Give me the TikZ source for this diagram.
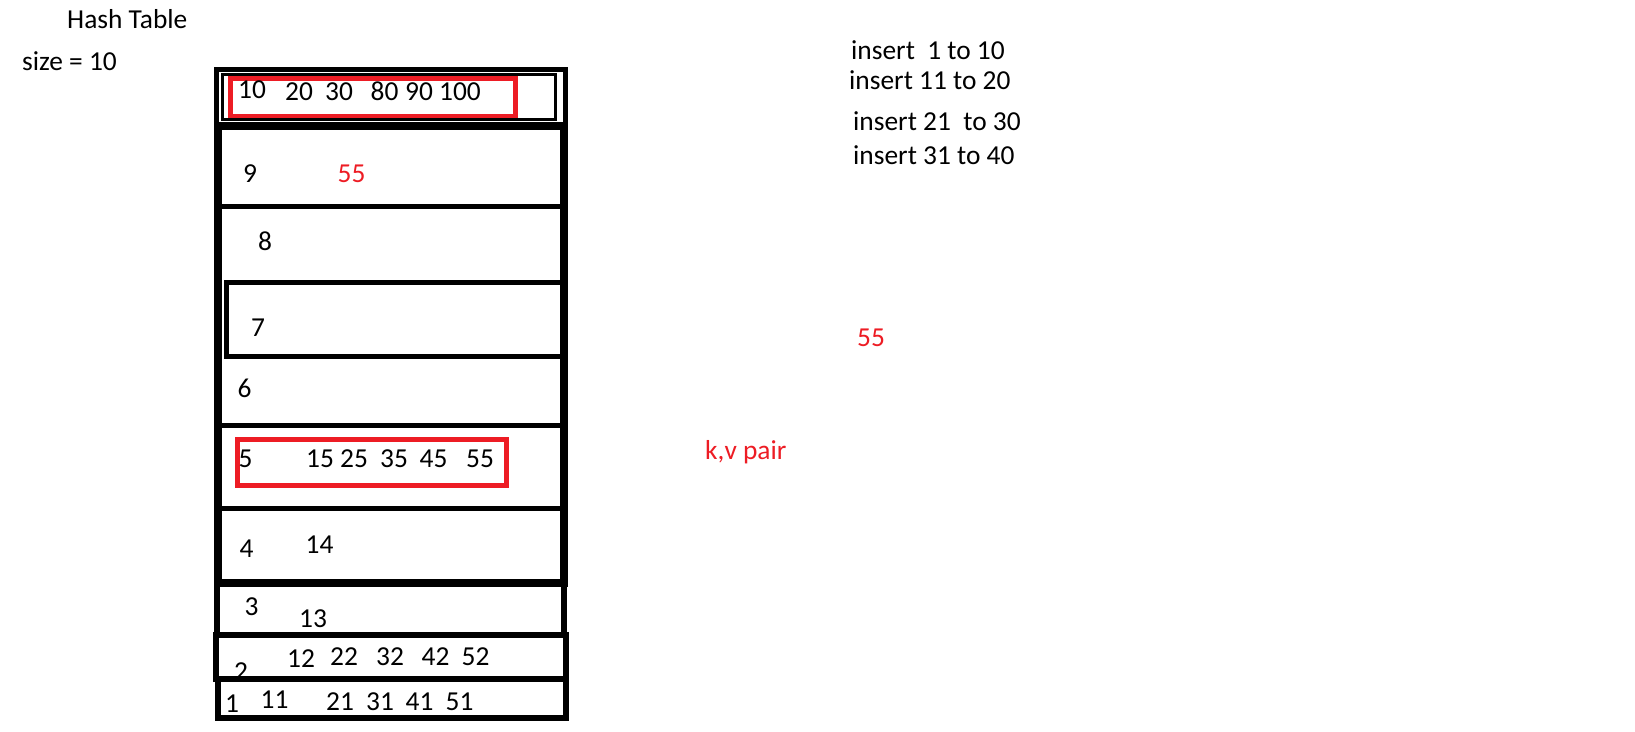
\documentclass[tikz,border=0pt]{standalone}
\usepackage{fontspec}
\setmainfont{Carlito}
\definecolor{pred}{HTML}{ED1C24}
\begin{document}
\begin{tikzpicture}[x=1pt,y=-1pt,
  lbl/.style={inner sep=0pt,anchor=base,font=\fontsize{27.4}{33}\selectfont},
  lblw/.style={lbl,anchor=base west},
  redlbl/.style={lbl,text=pred},
  redbox/.style={draw=pred,line width=5pt},
  edge/.style={draw=black}]
\useasboundingbox (0,0) rectangle (1635,731);

% red boxes
\draw[redbox] (230.5,78) rectangle (515.5,116.5);
\draw[redbox] (237.5,439.5) rectangle (506,485);

% titles
\node[lblw] (title) at (67,28) {Hash Table};
\node[lblw] (size) at (22,70) {size = 10};
\node[lblw] (ins1) at (851,59) {insert\ \ 1 to 10};
\node[lblw] (ins2) at (849,89) {insert 11 to 20};
\node[lblw] (ins3) at (853,130) {insert 21\ \ to 30};
\node[lblw] (ins4) at (853,164) {insert 31 to 40};
\node[redlbl] (r55) at (871,346) {55};
\node[redlbl,anchor=base west] (kv) at (705,459) {k,v pair};

% row 10
\node[lbl] (a10) at (252,98) {10};
\node[lbl] (a20) at (299,100) {20};
\node[lbl] (a30) at (339,100) {30};
\node[lbl] (a80) at (384.5,100) {80};
\node[lbl] (a90) at (419,100) {90};
\node[lbl] (a100) at (460,100) {100};
% row 9
\node[lbl] (i9) at (250,182) {9};
\node[redlbl] (b55) at (351.5,182) {55};
% row 8, 7, 6
\node[lbl] (i8) at (265,250) {8};
\node[lbl] (i7) at (258,336) {7};
\node[lbl] (i6) at (244.5,397) {6};
% row 5
\node[lbl] (i5) at (245.5,467) {5};
\node[lbl] (c15) at (320,467) {15};
\node[lbl] (c25) at (354,467) {25};
\node[lbl] (c35) at (394,467) {35};
\node[lbl] (c45) at (433.5,467) {45};
\node[lbl] (c55) at (480,467) {55};
% row 4
\node[lbl] (i4) at (246.5,557) {4};
\node[lbl] (d14) at (319.5,553) {14};
% row 3
\node[lbl] (i3) at (251.5,615) {3};
\node[lbl] (e13) at (313,627) {13};
% row 2
\node[lbl] (i2) at (241,680) {2};
\node[lbl] (f12) at (301,667) {12};
\node[lbl] (f22) at (344,665) {22};
\node[lbl] (f32) at (390,665) {32};
\node[lbl] (f42) at (435.5,665) {42};
\node[lbl] (f52) at (475.5,665) {52};
% row 1
\node[lbl] (i1) at (232,712) {1};
\node[lbl] (g11) at (274.5,708) {11};
\node[lbl] (g21) at (340,710) {21};
\node[lbl] (g31) at (380,710) {31};
\node[lbl] (g41) at (419.5,710) {41};
\node[lbl] (g51) at (459.5,710) {51};

% black table lines
\draw[edge,line width=5pt] (216.5,69.5) rectangle (565.5,124);
\draw[edge,line width=3pt] (222.5,74) rectangle (555.5,119);
\draw[edge,line width=8pt] (218,126) rectangle (564,583);
\draw[edge,line width=5pt] (218,206.5) -- (564,206.5);
\draw[edge,line width=5pt] (226.5,282.5) rectangle (564,356);
\draw[edge,line width=5pt] (218,425.5) -- (564,425.5);
\draw[edge,line width=5pt] (218,508.5) -- (564,508.5);
\draw[edge,line width=6pt] (217,583) rectangle (564,634.5);
\draw[edge,line width=6pt] (216,634.5) rectangle (566,678.5);
\draw[edge,line width=6pt] (217.5,678.5) rectangle (566,717.5);
\end{tikzpicture}
\end{document}
